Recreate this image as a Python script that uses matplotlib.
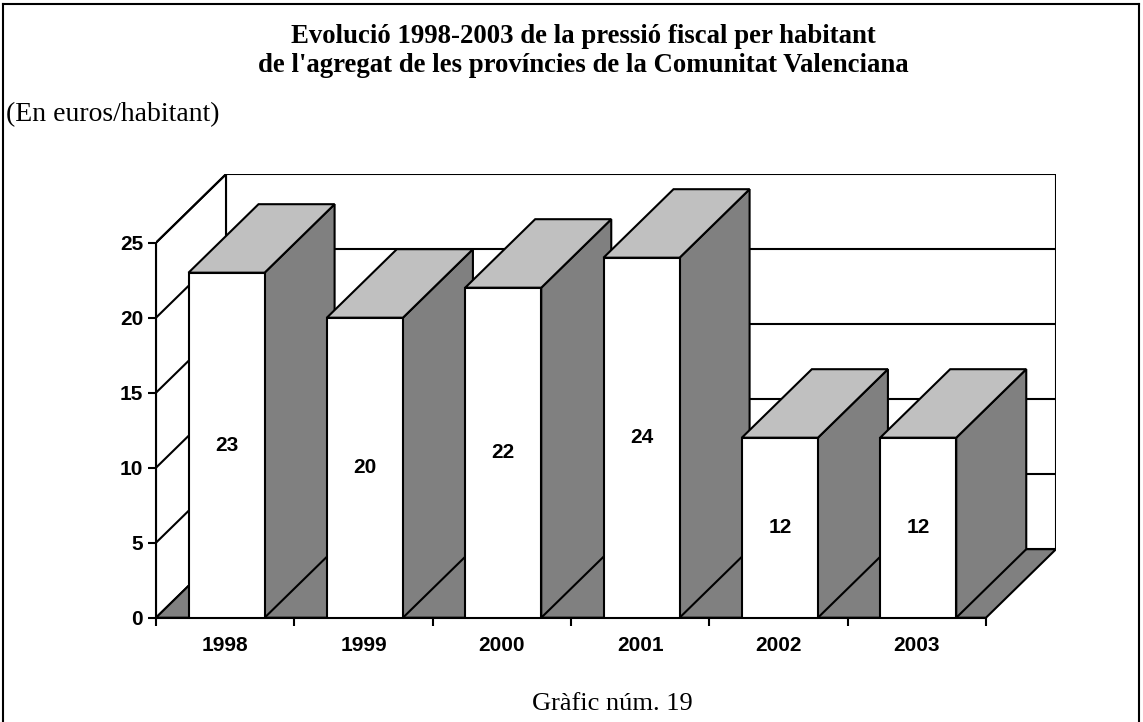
import matplotlib
matplotlib.use("Agg")
import matplotlib.pyplot as plt
from matplotlib.patches import Polygon, Rectangle
from matplotlib.lines import Line2D

# ---- data ----
years = ["1998", "1999", "2000", "2001", "2002", "2003"]
values = [23, 20, 22, 24, 12, 12]
yticks = [0, 5, 10, 15, 20, 25]
title = ("Evolució 1998-2003 de la pressió fiscal per habitant\n"
         "de l'agregat de les províncies de la Comunitat Valenciana")
units = "(En euros/habitant)"
footer = "Gràfic núm. 19"

# ---- geometry / style ----
W, H = 1143, 722
ymax = 25
DX = 70 / (830 / 6)      # depth offset in category units
DY = 68.5 / 15           # depth offset in value units
bar_off = 0.235
bar_w = 0.55
LW = 1.5
GRAY_SIDE = "#808080"
GRAY_TOP = "#c0c0c0"
LABEL_FS = 15

fig = plt.figure(figsize=(W / 100, H / 100), dpi=100)
fig.patch.set_facecolor("white")

left_px, bottom_px = 156, 617.7
ncat = len(years)
right_px = left_px + (ncat + DX) * (830 / 6)
top_px = bottom_px - (ymax + DY) * 15
ax = fig.add_axes([left_px / W, (H - bottom_px) / H,
                   (right_px - left_px) / W, (bottom_px - top_px) / H])
ax.set_xlim(0, ncat + DX)
ax.set_ylim(0, ymax + DY)
ax.patch.set_alpha(0)

# walls
back = Polygon([(DX, DY), (ncat + DX, DY), (ncat + DX, ymax + DY), (DX, ymax + DY)],
               closed=True, facecolor="white", edgecolor="black", lw=LW, zorder=1)
lwall = Polygon([(0, 0), (DX, DY), (DX, ymax + DY), (0, ymax)],
                closed=True, facecolor="white", edgecolor="black", lw=LW, zorder=1)
ax.add_patch(back)
ax.add_patch(lwall)
for t in yticks[1:-1]:
    ax.plot([DX, ncat + DX], [t + DY, t + DY], color="black", lw=LW, zorder=1.2,
            solid_capstyle="butt")
for t in yticks[1:]:
    ax.plot([0, DX], [t, t + DY], color="black", lw=LW, zorder=1.2,
            solid_capstyle="butt")
# floor
floor = Polygon([(0, 0), (ncat, 0), (ncat + DX, DY), (DX, DY)], closed=True,
                facecolor=GRAY_SIDE, edgecolor="black", lw=LW, zorder=1.5)
ax.add_patch(floor)

# bars
for i, v in enumerate(values):
    x0 = i + bar_off
    x1 = x0 + bar_w
    z = 3 + i * 0.1
    side = Polygon([(x1, 0), (x1 + DX, DY), (x1 + DX, v + DY), (x1, v)], closed=True,
                   facecolor=GRAY_SIDE, edgecolor="black", lw=LW, zorder=z,
                   joinstyle="miter")
    top = Polygon([(x0, v), (x0 + DX, v + DY), (x1 + DX, v + DY), (x1, v)], closed=True,
                  facecolor=GRAY_TOP, edgecolor="black", lw=LW, zorder=z,
                  joinstyle="miter")
    front = Rectangle((x0, 0), bar_w, v, facecolor="white", edgecolor="black",
                      lw=LW, zorder=z + 0.01, joinstyle="miter")
    ax.add_patch(side)
    ax.add_patch(top)
    ax.add_patch(front)
    ax.text(x0 + bar_w / 2, v / 2, str(v), ha="center", va="center",
            fontsize=LABEL_FS, fontweight="bold", family="Liberation Sans",
            zorder=z + 0.05)

# axes / ticks
for s in ["top", "right"]:
    ax.spines[s].set_visible(False)
ax.spines["left"].set_bounds(0, ymax)
ax.spines["bottom"].set_bounds(0, ncat)
for s in ["left", "bottom"]:
    ax.spines[s].set_linewidth(LW)
    ax.spines[s].set_zorder(2)
ax.set_yticks(yticks)
ax.set_yticklabels([str(t) for t in yticks])
ax.set_xticks(range(ncat + 1))
ax.set_xticklabels([""] * (ncat + 1))
ax.set_xticks([i + 0.5 for i in range(ncat)], minor=True)
ax.set_xticklabels(years, minor=True)
ax.tick_params(axis="y", which="major", direction="out", length=5.8, width=LW, pad=3.5,
               labelsize=LABEL_FS)
ax.tick_params(axis="x", which="major", direction="out", length=5.8, width=LW)
ax.tick_params(axis="x", which="minor", length=0, pad=13, labelsize=LABEL_FS)
for lab in ax.get_yticklabels() + ax.get_xticklabels(minor=True):
    lab.set_fontweight("bold")
    lab.set_family("Liberation Sans")

# texts
fig.text(583 / W, 1 - 51 / H, title, ha="center", va="center", fontsize=19.3,
         fontweight="bold", family="Liberation Serif", linespacing=1.25)
fig.text(6 / W, 1 - 115 / H, units, ha="left", va="center", fontsize=20,
         family="Liberation Serif")
fig.text(612 / W, 1 - 704 / H, footer, ha="center", va="center", fontsize=19,
         family="Liberation Serif")

# frame
for xs, ys in [([3, 3], [4, H + 5]), ([3, 1139], [4, 4]), ([1139, 1139], [4, H + 5])]:
    fig.add_artist(Line2D([x / W for x in xs], [1 - y / H for y in ys],
                          transform=fig.transFigure, color="black", lw=1.5))

fig.savefig("out.png", dpi=100)
